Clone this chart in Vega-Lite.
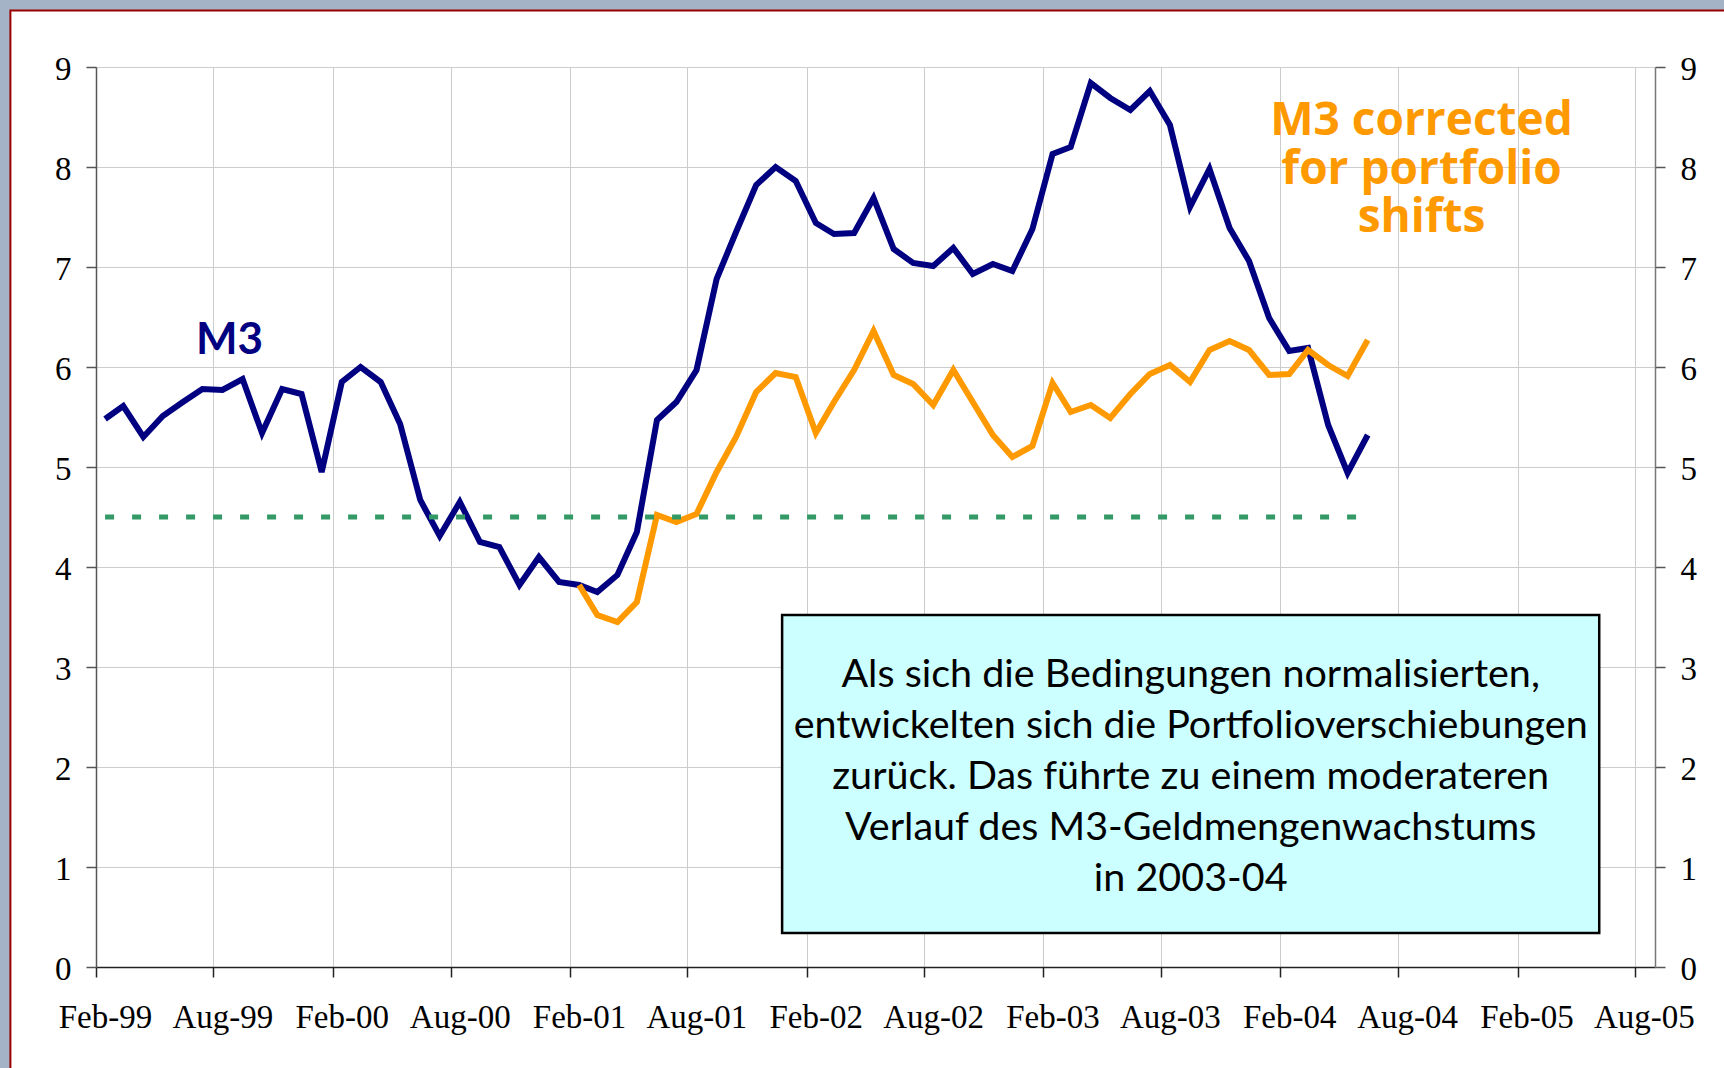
{
  "$schema": "https://vega.github.io/schema/vega-lite/v6.json",
  "width": 1559,
  "height": 900,
  "autosize": {"type": "none"},
  "padding": {"left": 96, "top": 67, "right": 69, "bottom": 101},
  "background": "white",
  "config": {"view": {"stroke": null}, "font": "Liberation Serif"},
  "data": {
    "values": [
      {"date": "1999-02-15", "series": "M3", "value": 5.48},
      {"date": "1999-03-15", "series": "M3", "value": 5.61},
      {"date": "1999-04-15", "series": "M3", "value": 5.30},
      {"date": "1999-05-15", "series": "M3", "value": 5.51},
      {"date": "1999-06-15", "series": "M3", "value": 5.65},
      {"date": "1999-07-15", "series": "M3", "value": 5.78},
      {"date": "1999-08-15", "series": "M3", "value": 5.77},
      {"date": "1999-09-15", "series": "M3", "value": 5.88},
      {"date": "1999-10-15", "series": "M3", "value": 5.34},
      {"date": "1999-11-15", "series": "M3", "value": 5.78},
      {"date": "1999-12-15", "series": "M3", "value": 5.73},
      {"date": "2000-01-15", "series": "M3", "value": 4.95},
      {"date": "2000-02-15", "series": "M3", "value": 5.85},
      {"date": "2000-03-15", "series": "M3", "value": 6.00},
      {"date": "2000-04-15", "series": "M3", "value": 5.85},
      {"date": "2000-05-15", "series": "M3", "value": 5.43},
      {"date": "2000-06-15", "series": "M3", "value": 4.67},
      {"date": "2000-07-15", "series": "M3", "value": 4.31},
      {"date": "2000-08-15", "series": "M3", "value": 4.65},
      {"date": "2000-09-15", "series": "M3", "value": 4.25},
      {"date": "2000-10-15", "series": "M3", "value": 4.20},
      {"date": "2000-11-15", "series": "M3", "value": 3.82},
      {"date": "2000-12-15", "series": "M3", "value": 4.10},
      {"date": "2001-01-15", "series": "M3", "value": 3.85},
      {"date": "2001-02-15", "series": "M3", "value": 3.82},
      {"date": "2001-03-15", "series": "M3", "value": 3.75},
      {"date": "2001-04-15", "series": "M3", "value": 3.92},
      {"date": "2001-05-15", "series": "M3", "value": 4.35},
      {"date": "2001-06-15", "series": "M3", "value": 5.47},
      {"date": "2001-07-15", "series": "M3", "value": 5.65},
      {"date": "2001-08-15", "series": "M3", "value": 5.97},
      {"date": "2001-09-15", "series": "M3", "value": 6.88},
      {"date": "2001-10-15", "series": "M3", "value": 7.35},
      {"date": "2001-11-15", "series": "M3", "value": 7.82},
      {"date": "2001-12-15", "series": "M3", "value": 8.00},
      {"date": "2002-01-15", "series": "M3", "value": 7.86},
      {"date": "2002-02-15", "series": "M3", "value": 7.44},
      {"date": "2002-03-15", "series": "M3", "value": 7.33},
      {"date": "2002-04-15", "series": "M3", "value": 7.34},
      {"date": "2002-05-15", "series": "M3", "value": 7.69},
      {"date": "2002-06-15", "series": "M3", "value": 7.18},
      {"date": "2002-07-15", "series": "M3", "value": 7.04},
      {"date": "2002-08-15", "series": "M3", "value": 7.01},
      {"date": "2002-09-15", "series": "M3", "value": 7.19},
      {"date": "2002-10-15", "series": "M3", "value": 6.93},
      {"date": "2002-11-15", "series": "M3", "value": 7.03},
      {"date": "2002-12-15", "series": "M3", "value": 6.96},
      {"date": "2003-01-15", "series": "M3", "value": 7.38},
      {"date": "2003-02-15", "series": "M3", "value": 8.13},
      {"date": "2003-03-15", "series": "M3", "value": 8.20},
      {"date": "2003-04-15", "series": "M3", "value": 8.84},
      {"date": "2003-05-15", "series": "M3", "value": 8.69},
      {"date": "2003-06-15", "series": "M3", "value": 8.57},
      {"date": "2003-07-15", "series": "M3", "value": 8.76},
      {"date": "2003-08-15", "series": "M3", "value": 8.42},
      {"date": "2003-09-15", "series": "M3", "value": 7.60},
      {"date": "2003-10-15", "series": "M3", "value": 7.98},
      {"date": "2003-11-15", "series": "M3", "value": 7.39},
      {"date": "2003-12-15", "series": "M3", "value": 7.06},
      {"date": "2004-01-15", "series": "M3", "value": 6.49},
      {"date": "2004-02-15", "series": "M3", "value": 6.16},
      {"date": "2004-03-15", "series": "M3", "value": 6.19},
      {"date": "2004-04-15", "series": "M3", "value": 5.42},
      {"date": "2004-05-15", "series": "M3", "value": 4.94},
      {"date": "2004-06-15", "series": "M3", "value": 5.32},
      {"date": "2001-02-15", "series": "M3 corrected", "value": 3.82},
      {"date": "2001-03-15", "series": "M3 corrected", "value": 3.52},
      {"date": "2001-04-15", "series": "M3 corrected", "value": 3.45},
      {"date": "2001-05-15", "series": "M3 corrected", "value": 3.65},
      {"date": "2001-06-15", "series": "M3 corrected", "value": 4.52},
      {"date": "2001-07-15", "series": "M3 corrected", "value": 4.45},
      {"date": "2001-08-15", "series": "M3 corrected", "value": 4.53},
      {"date": "2001-09-15", "series": "M3 corrected", "value": 4.95},
      {"date": "2001-10-15", "series": "M3 corrected", "value": 5.30},
      {"date": "2001-11-15", "series": "M3 corrected", "value": 5.75},
      {"date": "2001-12-15", "series": "M3 corrected", "value": 5.94},
      {"date": "2002-01-15", "series": "M3 corrected", "value": 5.90},
      {"date": "2002-02-15", "series": "M3 corrected", "value": 5.34},
      {"date": "2002-03-15", "series": "M3 corrected", "value": 5.65},
      {"date": "2002-04-15", "series": "M3 corrected", "value": 5.97},
      {"date": "2002-05-15", "series": "M3 corrected", "value": 6.36},
      {"date": "2002-06-15", "series": "M3 corrected", "value": 5.92},
      {"date": "2002-07-15", "series": "M3 corrected", "value": 5.83},
      {"date": "2002-08-15", "series": "M3 corrected", "value": 5.62},
      {"date": "2002-09-15", "series": "M3 corrected", "value": 5.97},
      {"date": "2002-10-15", "series": "M3 corrected", "value": 5.65},
      {"date": "2002-11-15", "series": "M3 corrected", "value": 5.32},
      {"date": "2002-12-15", "series": "M3 corrected", "value": 5.10},
      {"date": "2003-01-15", "series": "M3 corrected", "value": 5.21},
      {"date": "2003-02-15", "series": "M3 corrected", "value": 5.84},
      {"date": "2003-03-15", "series": "M3 corrected", "value": 5.55},
      {"date": "2003-04-15", "series": "M3 corrected", "value": 5.62},
      {"date": "2003-05-15", "series": "M3 corrected", "value": 5.49},
      {"date": "2003-06-15", "series": "M3 corrected", "value": 5.73},
      {"date": "2003-07-15", "series": "M3 corrected", "value": 5.93},
      {"date": "2003-08-15", "series": "M3 corrected", "value": 6.02},
      {"date": "2003-09-15", "series": "M3 corrected", "value": 5.85},
      {"date": "2003-10-15", "series": "M3 corrected", "value": 6.17},
      {"date": "2003-11-15", "series": "M3 corrected", "value": 6.26},
      {"date": "2003-12-15", "series": "M3 corrected", "value": 6.17},
      {"date": "2004-01-15", "series": "M3 corrected", "value": 5.92},
      {"date": "2004-02-15", "series": "M3 corrected", "value": 5.93},
      {"date": "2004-03-15", "series": "M3 corrected", "value": 6.17},
      {"date": "2004-04-15", "series": "M3 corrected", "value": 6.02},
      {"date": "2004-05-15", "series": "M3 corrected", "value": 5.91},
      {"date": "2004-06-15", "series": "M3 corrected", "value": 6.27},
      {"date": "1999-02-15", "series": "Referenzwert", "value": 4.5},
      {"date": "2004-06-15", "series": "Referenzwert", "value": 4.5}
    ]
  },
  "layer": [
    {
      "data": {"values": [{}]},
      "mark": {"type": "rect", "fill": "#a4b4c6", "stroke": null},
      "encoding": {
        "x": {"datum": {"year": 1997, "month": 1, "date": 1}, "type": "temporal", "scale": {"domain": [{"year": 1999, "month": 2, "date": 1}, {"year": 2005, "month": 9, "date": 1}]}, "axis": null},
        "x2": {"datum": {"year": 1998, "month": 9, "date": 22}},
        "y": {"datum": -3, "type": "quantitative", "scale": {"domain": [0, 9], "nice": false}, "axis": null},
        "y2": {"datum": 12}
      }
    },
    {
      "data": {"values": [{}]},
      "mark": {"type": "rect", "fill": "#a4b4c6", "stroke": null},
      "encoding": {
        "x": {"datum": {"year": 1997, "month": 1, "date": 1}, "type": "temporal", "scale": {"domain": [{"year": 1999, "month": 2, "date": 1}, {"year": 2005, "month": 9, "date": 1}]}, "axis": null},
        "x2": {"datum": {"year": 2007, "month": 1, "date": 1}},
        "y": {"datum": 9.565, "type": "quantitative", "scale": {"domain": [0, 9], "nice": false}, "axis": null},
        "y2": {"datum": 12}
      }
    },
    {
      "data": {"values": [{}]},
      "mark": {"type": "rect", "fill": null, "stroke": "#990000", "strokeWidth": 2},
      "encoding": {
        "x": {"datum": {"year": 1998, "month": 9, "date": 22}, "type": "temporal", "scale": {"domain": [{"year": 1999, "month": 2, "date": 1}, {"year": 2005, "month": 9, "date": 1}]}, "axis": null},
        "x2": {"datum": {"year": 2007, "month": 1, "date": 1}},
        "y": {"datum": 9.565, "type": "quantitative", "scale": {"domain": [0, 9], "nice": false}, "axis": null},
        "y2": {"datum": -3}
      }
    },
    {
      "transform": [{"filter": "datum.series == 'M3'"}],
      "mark": {"type": "line", "color": "#000080", "strokeWidth": 6},
      "encoding": {
        "x": {
          "field": "date", "type": "temporal",
          "scale": {"domain": [{"year": 1999, "month": 2, "date": 1}, {"year": 2005, "month": 9, "date": 1}]},
          "axis": {
            "title": null,
            "values": [
              {"year": 1999, "month": 2, "date": 1}, {"year": 1999, "month": 8, "date": 1},
              {"year": 2000, "month": 2, "date": 1}, {"year": 2000, "month": 8, "date": 1},
              {"year": 2001, "month": 2, "date": 1}, {"year": 2001, "month": 8, "date": 1},
              {"year": 2002, "month": 2, "date": 1}, {"year": 2002, "month": 8, "date": 1},
              {"year": 2003, "month": 2, "date": 1}, {"year": 2003, "month": 8, "date": 1},
              {"year": 2004, "month": 2, "date": 1}, {"year": 2004, "month": 8, "date": 1},
              {"year": 2005, "month": 2, "date": 1}, {"year": 2005, "month": 8, "date": 1}
            ],
            "format": "%b-%y",
            "grid": true, "gridColor": "#cccccc", "gridWidth": 1,
            "domainColor": "#222222", "domainWidth": 1.5,
            "tickColor": "#222222", "tickWidth": 1.5, "tickSize": 10,
            "labelFont": "Liberation Serif", "labelFontSize": 33, "labelColor": "#000000",
            "labelPadding": 24, "labelOffset": 9, "labelOverlap": false, "labelFlush": false
          }
        },
        "y": {
          "field": "value", "type": "quantitative",
          "scale": {"domain": [0, 9], "nice": false},
          "axis": {
            "orient": "left", "title": null, "values": [0, 1, 2, 3, 4, 5, 6, 7, 8, 9], "format": "d",
            "grid": true, "gridColor": "#cccccc", "gridWidth": 1,
            "domainColor": "#555555", "domainWidth": 1.5,
            "tickColor": "#555555", "tickWidth": 1.5, "tickSize": 10,
            "labelFont": "Liberation Serif", "labelFontSize": 33, "labelColor": "#000000",
            "labelPadding": 15, "labelOffset": 2, "labelFlush": false
          }
        }
      }
    },
    {
      "transform": [{"filter": "datum.series == 'M3 corrected'"}],
      "mark": {"type": "line", "color": "#ff9900", "strokeWidth": 6},
      "encoding": {
        "x": {"field": "date", "type": "temporal", "scale": {"domain": [{"year": 1999, "month": 2, "date": 1}, {"year": 2005, "month": 9, "date": 1}]}, "axis": null},
        "y": {
          "field": "value", "type": "quantitative",
          "scale": {"domain": [0, 9], "nice": false},
          "axis": {
            "orient": "right", "title": null, "values": [0, 1, 2, 3, 4, 5, 6, 7, 8, 9], "format": "d",
            "grid": false,
            "domainColor": "#777777", "domainWidth": 1.5,
            "tickColor": "#555555", "tickWidth": 1.5, "tickSize": 10,
            "labelFont": "Liberation Serif", "labelFontSize": 33, "labelColor": "#000000",
            "labelPadding": 15, "labelOffset": 2, "labelFlush": false
          }
        }
      }
    },
    {
      "transform": [{"filter": "datum.series == 'Referenzwert'"}],
      "mark": {"type": "line", "color": "#339966", "strokeWidth": 5, "strokeDash": [9, 18], "strokeCap": "butt"},
      "encoding": {
        "x": {"field": "date", "type": "temporal", "scale": {"domain": [{"year": 1999, "month": 2, "date": 1}, {"year": 2005, "month": 9, "date": 1}]}, "axis": null},
        "y": {"field": "value", "type": "quantitative", "scale": {"domain": [0, 9], "nice": false}, "axis": null}
      }
    },
    {
      "data": {"values": [{}]},
      "mark": {"type": "rect", "fill": "#ccffff", "stroke": "#000000", "strokeWidth": 2.5},
      "encoding": {
        "x": {"datum": {"year": 2001, "month": 12, "date": 25}, "type": "temporal", "scale": {"domain": [{"year": 1999, "month": 2, "date": 1}, {"year": 2005, "month": 9, "date": 1}]}, "axis": null},
        "x2": {"datum": {"year": 2005, "month": 6, "date": 7}},
        "y": {"datum": 3.52, "type": "quantitative", "scale": {"domain": [0, 9], "nice": false}, "axis": null},
        "y2": {"datum": 0.34}
      }
    },
    {
      "data": {"values": [{}]},
      "mark": {
        "type": "text", "font": "Lato", "fontSize": 39.5, "lineHeight": 51, "color": "#000000",
        "align": "center", "baseline": "alphabetic",
        "text": ["Als sich die Bedingungen normalisierten,", "entwickelten sich die Portfolioverschiebungen", "zurück. Das führte zu einem moderateren", "Verlauf des M3-Geldmengenwachstums", "in 2003-04"]
      },
      "encoding": {
        "x": {"datum": {"year": 2003, "month": 9, "date": 16}, "type": "temporal", "scale": {"domain": [{"year": 1999, "month": 2, "date": 1}, {"year": 2005, "month": 9, "date": 1}]}, "axis": null},
        "y": {"datum": 2.80, "type": "quantitative", "scale": {"domain": [0, 9], "nice": false}, "axis": null}
      }
    },
    {
      "data": {"values": [{}]},
      "mark": {"type": "text", "font": "Lato", "fontWeight": "bold", "fontSize": 44, "color": "#000080", "align": "center", "baseline": "alphabetic", "text": "M3"},
      "encoding": {
        "x": {"datum": {"year": 1999, "month": 8, "date": 26}, "type": "temporal", "scale": {"domain": [{"year": 1999, "month": 2, "date": 1}, {"year": 2005, "month": 9, "date": 1}]}, "axis": null},
        "y": {"datum": 6.13, "type": "quantitative", "scale": {"domain": [0, 9], "nice": false}, "axis": null}
      }
    },
    {
      "data": {"values": [{}]},
      "mark": {"type": "text", "font": "Open Sans", "fontWeight": "bold", "fontSize": 46, "lineHeight": 48.5, "color": "#ff9900", "align": "center", "baseline": "alphabetic", "text": ["M3 corrected", "for portfolio", "shifts"]},
      "encoding": {
        "x": {"datum": {"year": 2004, "month": 9, "date": 6}, "type": "temporal", "scale": {"domain": [{"year": 1999, "month": 2, "date": 1}, {"year": 2005, "month": 9, "date": 1}]}, "axis": null},
        "y": {"datum": 8.32, "type": "quantitative", "scale": {"domain": [0, 9], "nice": false}, "axis": null}
      }
    }
  ],
  "resolve": {"axis": {"x": "independent", "y": "independent"}}
}
